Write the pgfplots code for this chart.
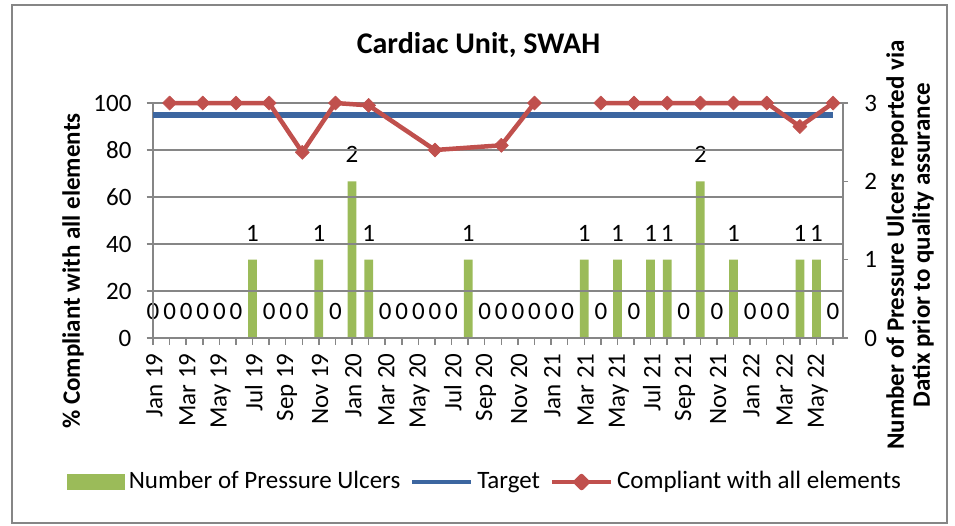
\documentclass[border=0pt]{standalone}
\usepackage{pgfplots}
\pgfplotsset{compat=1.18}
\usepackage{fontspec}
\setmainfont{Carlito}
\definecolor{barGreen}{RGB}{155,187,89}
\definecolor{tgtBlue}{RGB}{60,102,160}
\definecolor{cmpRed}{RGB}{192,80,77}
\definecolor{gridGray}{RGB}{134,134,134}

\begin{document}
\begin{tikzpicture}[x=1pt,y=1pt]
\useasboundingbox (0,0) rectangle (382,210);
\draw[gridGray, line width=0.8pt] (4.8,0.8) rectangle (378.8,208);

% secondary axis: bars
\begin{axis}[
  at={(61.2pt,74.8pt)}, anchor=south west,
  scale only axis, width=276pt, height=94pt,
  xmin=0, xmax=41.6, ymin=0, ymax=3,
  axis x line=none, axis y line*=right,
  ytick={0,1,2,3},
  tick align=outside, major tick length=2pt,
  y axis line style={gridGray, line width=0.6pt},
  ytick style={gridGray, line width=0.6pt},
  yticklabel style={font=\fontsize{10}{12}\selectfont, xshift=3pt},
  /pgf/number format/assume math mode=true,
  clip=false,
]
\addplot[ybar, bar width=3.5pt, fill=barGreen, draw=none,
  nodes near coords,
  nodes near coords style={font=\fontsize{10}{12}\selectfont, anchor=base, yshift=7.4pt, inner sep=0pt, text=black},
] coordinates {
(0,0)(1,0)(2,0)(3,0)(4,0)(5,0)(6,1)(7,0)(8,0)(9,0)(10,1)(11,0)(12,2)(13,1)
(14,0)(15,0)(16,0)(17,0)(18,0)(19,1)(20,0)(21,0)(22,0)(23,0)(24,0)(25,0)
(26,1)(27,0)(28,1)(29,0)(30,1)(31,1)(32,0)(33,2)(34,0)(35,1)(36,0)(37,0)(38,0)
(39,1)(40,1)(41,0)};
\end{axis}

% primary axis: lines
\begin{axis}[
  at={(61.2pt,74.8pt)}, anchor=south west,
  scale only axis, width=276pt, height=94pt,
  xmin=0, xmax=41.6, ymin=0, ymax=100,
  axis x line*=bottom, axis y line*=left,
  axis line style={gridGray, line width=0.6pt},
  ytick={0,20,40,60,80,100},
  ymajorgrids, grid style={gridGray, line width=0.6pt},
  xtick={0,...,41},
  xticklabels={Jan 19,,Mar 19,,May 19,,Jul 19,,Sep 19,,Nov 19,,Jan 20,,Mar 20,,May 20,,Jul 20,,Sep 20,,Nov 20,,Jan 21,,Mar 21,,May 21,,Jul 21,,Sep 21,,Nov 21,,Jan 22,,Mar 22,,May 22,},
  tick align=outside, major tick length=2.6pt,
  tick style={gridGray, line width=0.6pt},
  xticklabel style={font=\fontsize{10}{12}\selectfont, rotate=90, anchor=east, yshift=-0.5pt},
  yticklabel style={font=\fontsize{10}{12}\selectfont, xshift=-2.5pt},
  /pgf/number format/assume math mode=true,
  clip=false,
  legend columns=3,
  legend style={at={(0.4825,-0.6128)}, anchor=center, draw=none, fill=none,
    font=\fontsize{10}{12}\selectfont,
    nodes={inner xsep=1.6pt},
    /tikz/every even column/.append style={column sep=2.4pt}},
]
\addlegendimage{legend image code/.code={\fill[barGreen] (0pt,-3pt) rectangle (22.8pt,3pt);}}
\addlegendentry{Number of Pressure Ulcers}
\addplot[tgtBlue, line width=2.2pt,
  legend image code/.code={\draw[tgtBlue,line width=1.6pt] (0pt,0pt) -- (23.6pt,0pt);}]
  coordinates {(0,95)(41,95)};
\addlegendentry{Target}
\addplot[cmpRed, line width=1.8pt, line join=round, mark=square*, mark size=2pt,
  mark options={solid, rotate=45, fill=cmpRed, draw=cmpRed, line width=0.2pt},
  unbounded coords=jump,
  legend image code/.code={\draw[cmpRed,line width=1.6pt] (0pt,0pt) -- (23.6pt,0pt);
     \fill[cmpRed] (11.8pt,2.4pt) -- (14.2pt,0pt) -- (11.8pt,-2.4pt) -- (9.4pt,0pt) -- cycle;}]
  coordinates {(1,100)(3,100)(5,100)(7,100)(9,79)(11,100)(13,99)(17,80)(21,82)(23,100)
  (25,nan)(27,100)(29,100)(31,100)(33,100)(35,100)(37,100)(39,90)(41,100)};
\addlegendentry{Compliant with all elements}
\end{axis}

\node[font=\fontsize{12}{14}\selectfont\bfseries] at (191.4,192) {Cardiac Unit, SWAH};
\node[rotate=90, font=\fontsize{10}{12}\selectfont\bfseries] at (29.2,101.6) {\% Compliant with all elements};
\node[rotate=90, font=\fontsize{10}{10.4}\selectfont\bfseries, align=center] at (364,112)
  {Number of Pressure Ulcers reported via\\Datix prior to quality assurance};
\end{tikzpicture}
\end{document}
